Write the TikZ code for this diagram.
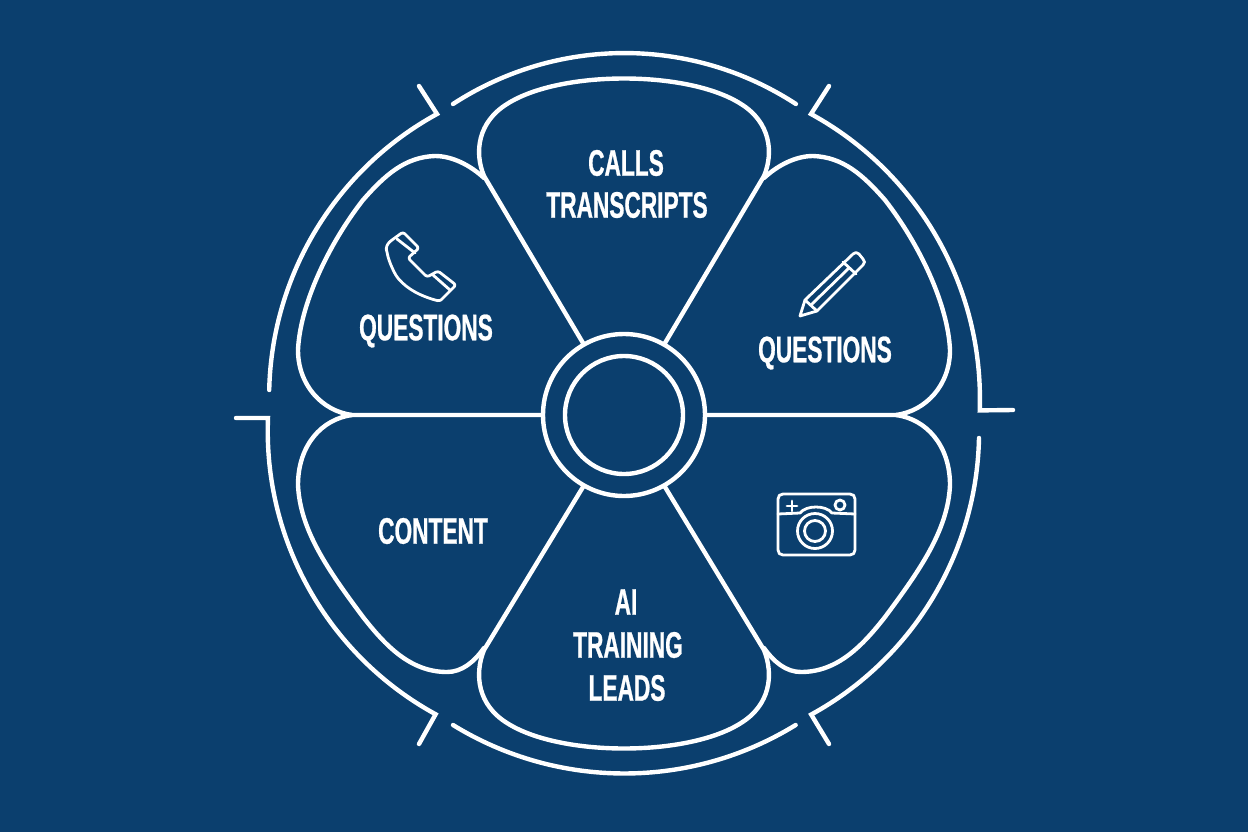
\documentclass[tikz,border=0pt]{standalone}
\usepackage{fontspec}
\setmainfont{Liberation Sans}[FakeStretch=0.615,BoldFeatures={FakeBold=0.7}]
\definecolor{WheelBlue}{RGB}{11,63,110}
\tikzset{
  wheel/.style={draw=white,line width=4.4*0.02cm,line cap=round},
  icon/.style={draw=white,line width=2.8*0.02cm,line cap=round,line join=round},
  lbl/.style={text=white,font=\fontsize{21}{24}\selectfont\bfseries,inner sep=0pt}
}
\begin{document}
\begin{tikzpicture}[x=0.02cm,y=-0.02cm]
  \fill[WheelBlue] (0,0) rectangle (1248,832);
  \useasboundingbox (0,0) rectangle (1248,832);
  % Outer ring
  \draw[wheel] (453,104) arc[start angle=236.9,end angle=303.1,radius=314];
  \draw[wheel] (453,725) arc[start angle=121.6,end angle=58.4,radius=327];
  \draw[wheel] (829,86) -- (811,114) arc[start angle=-61.3,end angle=2,radius=325] -- (1013,410);
  \draw[wheel] (979,438) arc[start angle=1.2,end angle=61.3,radius=323] -- (829,744);
  \draw[wheel] (419,86) -- (437,114) arc[start angle=241.3,end angle=181.3,radius=323];
  \draw[wheel] (236,418) -- (268,418) arc[start angle=182.3,end angle=118.7,radius=323] -- (419,744);
  % Hub
  \draw[wheel] (624,415) circle[radius=81];
  \draw[wheel] (624,415) circle[radius=59];
  % Petals
  \draw[wheel] (583,343) -- (484,176) .. controls (474,152) and (478,122) .. (507,104)
     .. controls (560,70) and (688,70) .. (741,104) .. controls (770,122) and (774,152) .. (764,176) -- (665,343);
  \draw[wheel] (583,487) -- (484,650) .. controls (474,675) and (478,705) .. (507,723)
     .. controls (560,757) and (688,757) .. (741,723) .. controls (770,705) and (774,675) .. (764,650) -- (665,487);
  \draw[wheel] (543,415) -- (352,415) .. controls (322,411) and (298,385) .. (298,350)
     .. controls (300,305) and (328,245) .. (363,200) .. controls (385,175) and (405,157) .. (435,156)
     .. controls (452,156) and (470,165) .. (484,178);
  \draw[wheel] (705,415) -- (896,415) .. controls (926,411) and (950,385) .. (950,350)
     .. controls (948,305) and (920,245) .. (885,200) .. controls (863,175) and (843,157) .. (813,156)
     .. controls (796,156) and (778,165) .. (764,178);
  \draw[wheel] (352,415) .. controls (322,419) and (298,445) .. (298,485)
     .. controls (300,530) and (328,570) .. (363,617) .. controls (385,645) and (410,672) .. (447,672)
     .. controls (462,672) and (474,662) .. (484,648);
  \draw[wheel] (896,415) .. controls (926,419) and (950,445) .. (950,485)
     .. controls (948,530) and (920,570) .. (885,617) .. controls (863,645) and (838,672) .. (801,672)
     .. controls (786,672) and (774,662) .. (764,648);
  % Labels
  \node[lbl] (calls) at (626,163) {CALLS};
  \node[lbl] (transcripts) at (627,205) {TRANSCRIPTS};
  \node[lbl] (qleft) at (426,331) {QUESTIONS};
  \node[lbl] (qright) at (825,353) {QUESTIONS};
  \node[lbl] (content) at (433,531) {CONTENT};
  \node[lbl] (ai) at (626,602) {AI};
  \node[lbl] (training) at (628,645) {TRAINING};
  \node[lbl] (leads) at (627,688) {LEADS};
  % Phone
  \draw[icon,rounded corners=2.5*0.02cm] (403,232) -- (392,240) .. controls (387,244) and (386,248) .. (387,252)
     .. controls (389,262) and (394,272) .. (397,277) .. controls (408,290) and (422,296) .. (435,300)
     .. controls (439,301) and (441,300) .. (443,298) -- (456,285) -- (438,271) -- (427,277)
     -- (408,258) -- (419,248) -- cycle;
  \draw[icon] (397,239) -- (415,253);
  \draw[icon] (433,275) -- (450,290);
  % Pencil
  \draw[icon] (800,316) -- (805,300) -- (853,254) .. controls (855,252) and (857,252) .. (859,254)
     -- (863,259) .. controls (865,261) and (865,263) .. (863,265) -- (817,311) -- cycle;
  \draw[icon] (805,300) -- (817,311);
  \draw[icon] (812,304) -- (849,268);
  \draw[icon] (843,262) -- (856,274);
  % Camera
  \draw[icon] (783,494) -- (850,494) .. controls (853,494) and (855,496) .. (855,499)
     -- (855,550) .. controls (855,553) and (853,555) .. (850,555) -- (783,555)
     .. controls (780,555) and (778,553) .. (778,550) -- (778,499) .. controls (778,496) and (780,494) .. (783,494) -- cycle;
  \draw[icon] (778,514) -- (800,513) .. controls (806,505) and (826,505) .. (832,513) -- (855,514);
  \draw[icon] (815,531) circle[radius=17.5];
  \draw[icon] (815,531) circle[radius=10.5];
  \draw[icon] (840,505) circle[radius=5];
  \draw[icon] (787,506) -- (797,506);
  \draw[icon] (792,501) -- (792,511);
\end{tikzpicture}
\end{document}
